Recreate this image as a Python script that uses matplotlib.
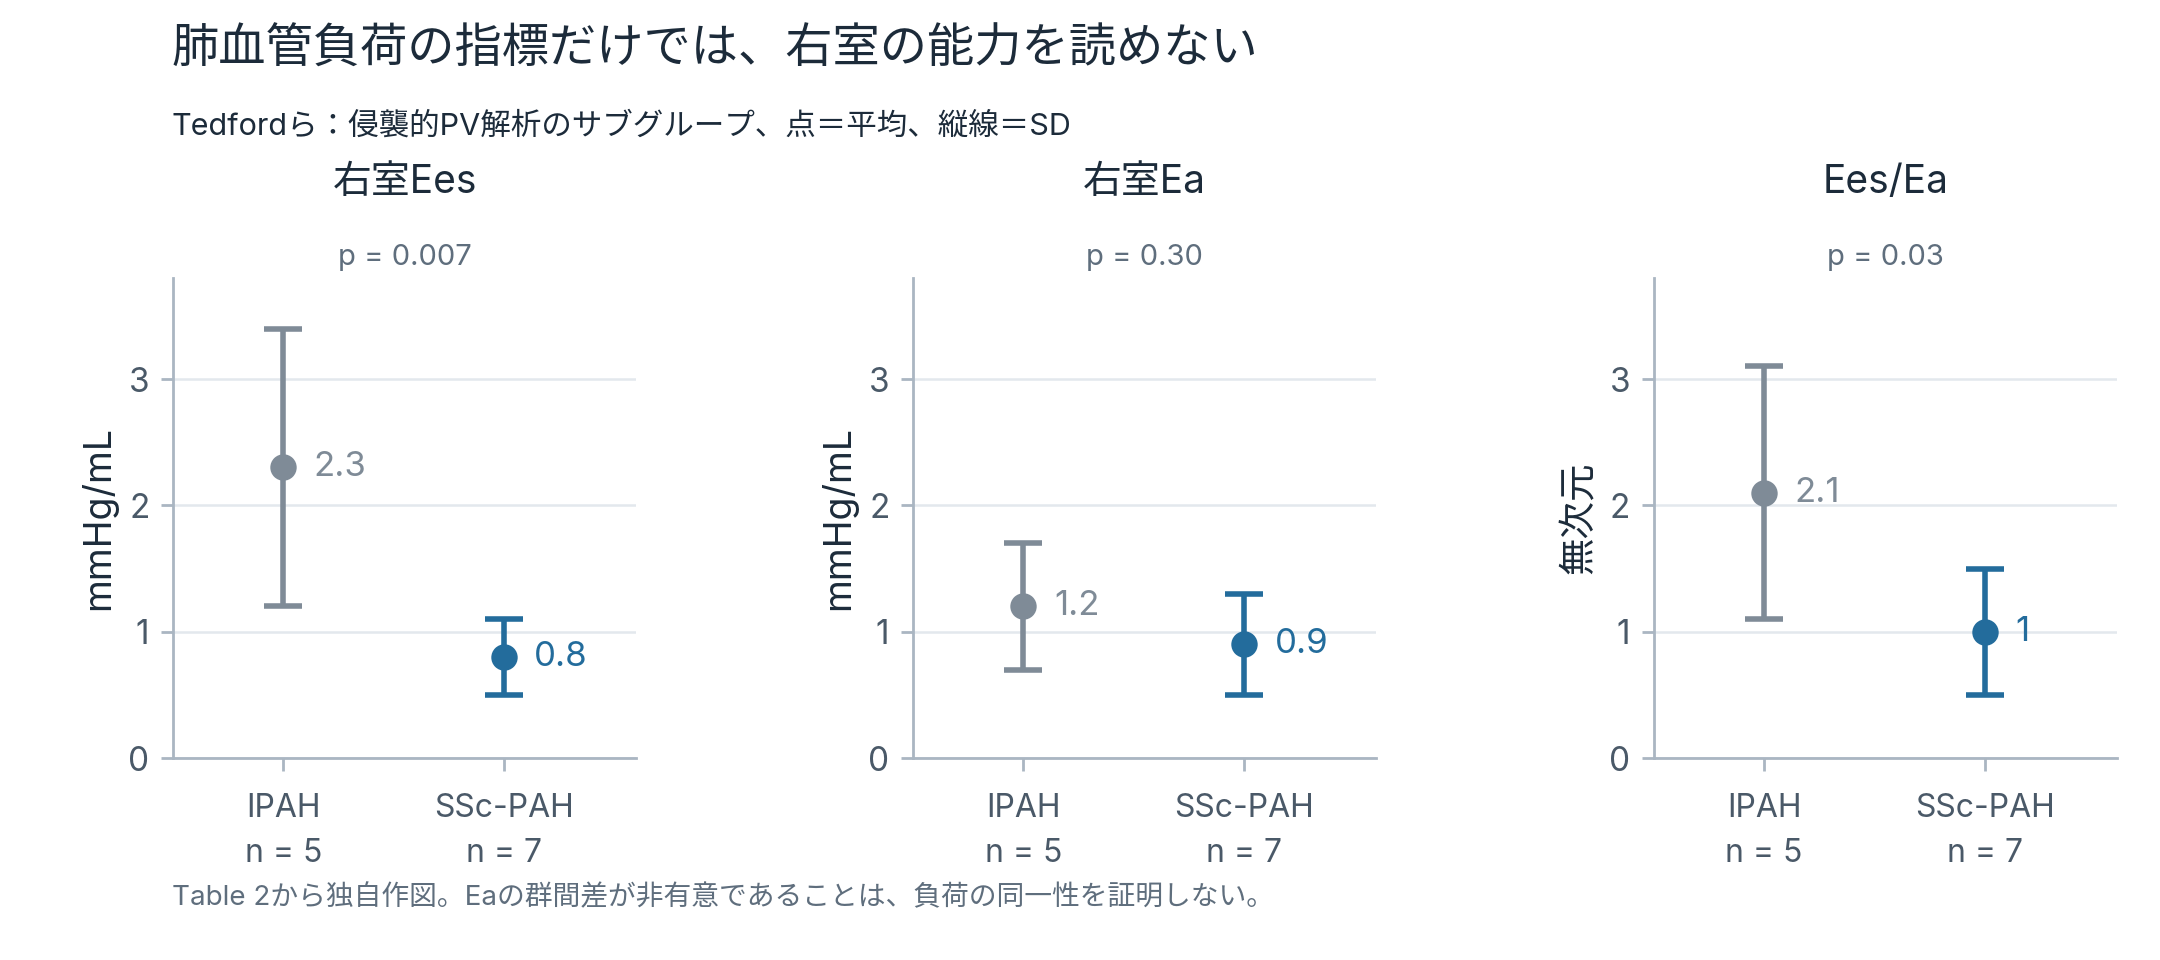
import matplotlib
matplotlib.use("Agg")
import matplotlib.pyplot as plt

# Latin glyphs from Inter, Japanese from Noto CJK
plt.rcParams["font.family"] = ["Inter", "Noto Sans CJK JP", "DejaVu Sans"]

# ─── data (Tedford et al., Table 2) ─────────────────────────────────────────
groups = ["IPAH", "SSc-PAH"]
group_n = [5, 7]
panel_titles = ["右室Ees", "右室Ea", "Ees/Ea"]
panel_pvals = ["p = 0.007", "p = 0.30", "p = 0.03"]
panel_units = ["mmHg/mL", "mmHg/mL", "無次元"]
means_ees = [2.3, 0.8]
sd_ees = [1.1, 0.3]
means_ea = [1.2, 0.9]
sd_ea = [0.5, 0.4]
means_ratio = [2.1, 1.0]
sd_ratio = [1.0, 0.5]
value_labels = [["2.3", "0.8"], ["1.2", "0.9"], ["2.1", "1"]]
yticks = [0, 1, 2, 3]

TITLE_C = "#1c2b3a"
TEXT_C = "#4a5968"
MUTED_C = "#5f6e7d"
GRID_C = "#e3e8ed"
SPINE_C = "#aab6c2"
GROUP_COLORS = ["#7f8b97", "#236c9c"]

fig = plt.figure(figsize=(10.8, 4.8), dpi=200)
fig.patch.set_facecolor("white")

fig.text(0.0796, 0.947, "肺血管負荷の指標だけでは、右室の能力を読めない",
         fontsize=17, color=TITLE_C, va="center", ha="left")
fig.text(0.0796, 0.868, "Tedfordら：侵襲的PV解析のサブグループ、点＝平均、縦線＝SD",
         fontsize=11, color=TITLE_C, va="center", ha="left")
fig.text(0.0796, 0.0646,
         "Table 2から独自作図。Eaの群間差が非有意であることは、負荷の同一性を証明しない。",
         fontsize=10, color=MUTED_C, va="center", ha="left")

panels = [(means_ees, sd_ees), (means_ea, sd_ea), (means_ratio, sd_ratio)]
lefts = [0.0801, 0.4227, 0.7657]

for i, (means, sds) in enumerate(panels):
    ax = fig.add_axes([lefts[i], 0.2104, 0.2144, 0.5])
    for j in range(len(groups)):
        c = GROUP_COLORS[j]
        ax.errorbar(j, means[j], yerr=sds[j], fmt="o", color=c, ecolor=c,
                    markersize=8.5, elinewidth=2.0, capsize=7, capthick=2.0,
                    zorder=3)
        ax.annotate(value_labels[i][j], (j, means[j]), xytext=(11, 0),
                    textcoords="offset points", va="center", ha="left",
                    fontsize=12.5, color=c)

    ax.set_xlim(-0.5, 1.6)
    ax.set_ylim(0, 3.8)
    ax.set_yticks(yticks)
    ax.set_xticks(range(len(groups)))
    ax.set_xticklabels([f"{g}\nn = {n}" for g, n in zip(groups, group_n)],
                       linespacing=1.6)
    ax.tick_params(axis="both", labelsize=11.5, colors=SPINE_C,
                   labelcolor=TEXT_C, length=4.5, width=1.0)
    ax.tick_params(axis="x", pad=8)
    ax.tick_params(axis="y", pad=4, labelsize=12)
    ax.grid(axis="y", color=GRID_C, linewidth=0.9)
    ax.set_axisbelow(True)
    for side in ("top", "right"):
        ax.spines[side].set_visible(False)
    for side in ("left", "bottom"):
        ax.spines[side].set_color(SPINE_C)
        ax.spines[side].set_linewidth(1.0)
    ax.set_ylabel(panel_units[i], fontsize=13.5, color=TITLE_C, labelpad=4)

    ax.text(0.5, 1.198, panel_titles[i], transform=ax.transAxes,
            ha="center", va="center", fontsize=14, color=TITLE_C)
    ax.text(0.5, 1.042, panel_pvals[i], transform=ax.transAxes,
            ha="center", va="center", fontsize=10.5, color=MUTED_C)

fig.savefig("out.png", dpi=200, facecolor="white")
